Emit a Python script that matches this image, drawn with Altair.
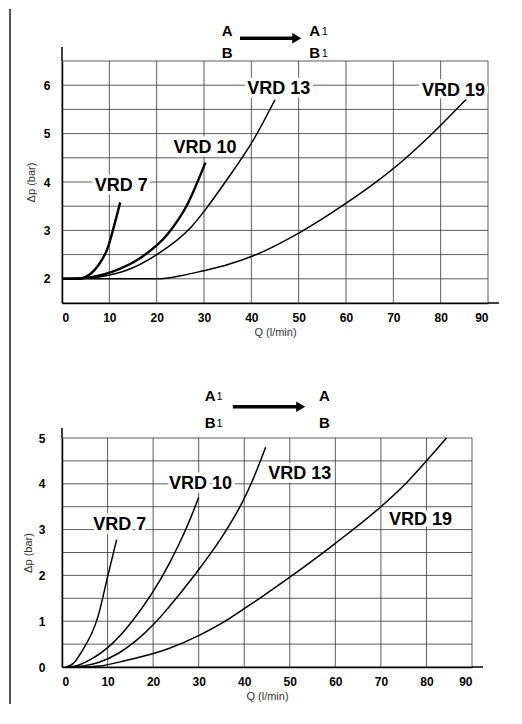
import altair as alt
import pandas as pd

F = "Liberation Sans"

# ---------------- top chart: A,B -> A1,B1 ----------------
top_names = ["VRD 7", "VRD 10", "VRD 13", "VRD 19"]
top_q = [
    [0, 3.5, 4.8, 7.6, 9.7, 11.1, 12.3],
    [0, 4, 7, 10.4, 16.7, 22.3, 26.5, 30.3],
    [0, 5, 9, 13.2, 20.2, 27.2, 30.3, 34.5, 40.5, 45.0],
    [0, 10, 20.2, 25.4, 29.6, 34.9, 40.3, 50.3, 59.1, 66.1, 72.1, 77.7, 85.5],
]
top_p = [
    [2.0, 2.0, 2.03, 2.27, 2.65, 3.13, 3.58],
    [2.0, 2.01, 2.05, 2.14, 2.44, 2.92, 3.54, 4.4],
    [2.0, 2.01, 2.06, 2.16, 2.51, 3.06, 3.43, 4.0, 4.88, 5.7],
    [2.0, 2.0, 2.0, 2.07, 2.16, 2.29, 2.47, 2.96, 3.5, 3.98, 4.45, 4.95, 5.72],
]
top_thick = ["VRD 7", "VRD 10"]
top_label_q = [12.5, 30.2, 45.8, 82.7]
top_label_p = [3.92, 4.71, 5.93, 5.89]
top_head_text = ["A", "B", "A", "B"]
top_head_q = [34.9, 34.9, 53.4, 53.4]
top_head_p = [7.11, 6.66, 7.11, 6.66]
top_sub_q = [55.5, 55.5]
top_sub_p = [7.09, 6.64]
top_arrow_q = [37.6, 49.6]
top_arrow_p = [6.97, 6.97]
top_x_domain = [0, 90]
top_y_domain = [1.5, 6.5]
top_y_labels = [2, 3, 4, 5, 6]
top_y_grid = [1.5, 2.0, 2.5, 3.0, 3.5, 4.0, 4.5, 5.0, 5.5, 6.0, 6.5]

# ---------------- bottom chart: A1,B1 -> A,B ----------------
bot_names = ["VRD 7", "VRD 10", "VRD 13", "VRD 19"]
bot_q = [
    [0.8, 2.5, 4.3, 7.9, 10.2, 12.0],
    [1.5, 3.0, 6.0, 10.9, 15.4, 19.7, 23.6, 27.8, 30.0],
    [1.5, 5.0, 8.0, 12.4, 16.2, 20.5, 23.4, 28.9, 35.5, 39.6, 41.5, 44.7],
    [1.5, 5.0, 8.1, 14.0, 20.6, 23.6, 30.1, 34.6, 40.4, 43.4, 50.0, 60.0, 70.0, 75.2, 80.0, 84.4],
]
bot_p = [
    [0.0, 0.08, 0.33, 1.1, 2.05, 2.78],
    [0.0, 0.02, 0.15, 0.5, 1.0, 1.6, 2.27, 3.15, 3.7],
    [0.0, 0.03, 0.1, 0.3, 0.57, 0.97, 1.3, 1.98, 2.9, 3.6, 4.0, 4.8],
    [0.0, 0.0, 0.02, 0.14, 0.31, 0.41, 0.69, 0.93, 1.3, 1.5, 1.96, 2.7, 3.5, 3.98, 4.5, 5.0],
]
bot_thick = []
bot_label_q = [12.7, 30.4, 52.2, 78.7]
bot_label_p = [3.11, 4.0, 4.22, 3.2]
bot_head_text = ["A", "B", "A", "B"]
bot_head_q = [32.5, 32.5, 57.6, 57.6]
bot_head_p = [5.92, 5.33, 5.92, 5.33]
bot_sub_q = [34.6, 34.6]
bot_sub_p = [5.9, 5.31]
bot_arrow_q = [37.5, 52.4]
bot_arrow_p = [5.68, 5.68]
bot_x_domain = [0, 90]
bot_y_domain = [0, 5]
bot_y_labels = [0, 1, 2, 3, 4, 5]
bot_y_grid = [0.0, 0.5, 1.0, 1.5, 2.0, 2.5, 3.0, 3.5, 4.0, 4.5, 5.0]

x_ticks = [0, 10, 20, 30, 40, 50, 60, 70, 80, 90]


def curves_df(names, qs, ps):
    rows = []
    for n, q, p in zip(names, qs, ps):
        for i, (a, b) in enumerate(zip(q, p)):
            rows.append({"series": n, "order": i, "Q": a, "dp": b})
    return pd.DataFrame(rows)


def panel(names, qs, ps, thick, lq, lp, hq, hp, htext, sq, sp, aq, ap,
          xdom, ydom, ylabels, ygrid, w, h, lab_pad, title_pad, frame):
    fl, ft, fb, ext_y, ext_x = frame
    x = alt.X("Q:Q", scale=alt.Scale(domain=xdom, nice=False, zero=False),
              axis=alt.Axis(values=x_ticks, title="Q (l/min)", titlePadding=3,
                            labelPadding=9, labelOverlap=False, grid=False, zindex=2))
    y = alt.Y("dp:Q", scale=alt.Scale(domain=ydom, nice=False, zero=False),
              axis=alt.Axis(values=ylabels, title="Δp (bar)", grid=False,
                            labelOverlap=False, zindex=2,
                            labelPadding=lab_pad, titlePadding=title_pad))

    hgrid = alt.Chart(pd.DataFrame({"dp": ygrid})).mark_rule(
        color="#333", strokeWidth=0.8
    ).encode(y=y)
    vgrid = alt.Chart(pd.DataFrame({"Q": x_ticks})).mark_rule(
        color="#333", strokeWidth=0.8
    ).encode(x=x)

    cdf = curves_df(names, qs, ps)
    cdf["thick"] = cdf["series"].isin(thick)
    base = alt.Chart(cdf)
    thin_lines = base.transform_filter("!datum.thick").mark_line(
        color="black", strokeWidth=1.5, interpolate="monotone"
    ).encode(x="Q:Q", y="dp:Q", detail="series:N", order="order:Q")
    thick_lines = base.transform_filter("datum.thick").mark_line(
        color="black", strokeWidth=2.4, interpolate="monotone"
    ).encode(x="Q:Q", y="dp:Q", detail="series:N", order="order:Q")

    ldf = pd.DataFrame({"Q": lq, "dp": lp, "text": names})
    halo = alt.Chart(ldf).mark_text(
        font=F, fontWeight="bold", fontSize=18, fill="white", stroke="white",
        strokeWidth=7, strokeJoin="round"
    ).encode(x="Q:Q", y="dp:Q", text="text:N")
    labels = alt.Chart(ldf).mark_text(
        font=F, fontWeight="bold", fontSize=18, color="black"
    ).encode(x="Q:Q", y="dp:Q", text="text:N")

    hdf = pd.DataFrame({"Q": hq, "dp": hp, "text": htext})
    head = alt.Chart(hdf).mark_text(
        font=F, fontWeight="bold", fontSize=15, color="black"
    ).encode(x="Q:Q", y="dp:Q", text="text:N")
    sdf = pd.DataFrame({"Q": sq, "dp": sp, "text": ["1"] * len(sq)})
    sub = alt.Chart(sdf).mark_text(
        font=F, fontSize=11, color="black"
    ).encode(x="Q:Q", y="dp:Q", text="text:N")

    adf = pd.DataFrame({"Q": aq, "dp": ap})
    shaft = alt.Chart(adf).mark_line(color="black", strokeWidth=3.5).encode(x="Q:Q", y="dp:Q")
    tip = alt.Chart(adf.tail(1)).mark_point(
        shape="triangle-right", filled=True, color="black", size=110, opacity=1
    ).encode(x="Q:Q", y="dp:Q")

    # decorative page frame (left edge) and axis-line overhangs
    frame_l = alt.Chart().mark_rule(color="#555", strokeWidth=2).encode(
        x=alt.value(fl), y=alt.value(ft), y2=alt.value(fb))
    yover = alt.Chart().mark_rule(color="black", strokeWidth=1.5).encode(
        x=alt.value(0), y=alt.value(-ext_y), y2=alt.value(0))
    xover = alt.Chart().mark_rule(color="black", strokeWidth=1.5).encode(
        x=alt.value(w), x2=alt.value(w + ext_x), y=alt.value(h))

    return alt.layer(hgrid, vgrid, thin_lines, thick_lines, halo, labels,
                     head, sub, shaft, tip, frame_l, yover, xover
                     ).properties(width=w, height=h)


top = panel(top_names, top_q, top_p, top_thick, top_label_q, top_label_p,
            top_head_q, top_head_p, top_head_text, top_sub_q, top_sub_p,
            top_arrow_q, top_arrow_p, top_x_domain, top_y_domain, top_y_labels,
            top_y_grid, 426, 242, 12, 7, (-52, -52, 300, 14, 11))
bottom = panel(bot_names, bot_q, bot_p, bot_thick, bot_label_q, bot_label_p,
               bot_head_q, bot_head_p, bot_head_text, bot_sub_q, bot_sub_p,
               bot_arrow_q, bot_arrow_p, bot_x_domain, bot_y_domain, bot_y_labels,
               bot_y_grid, 410, 229, 17, 5, (-52, -77, 266, 10, 11))

chart = alt.vconcat(top, bottom, spacing=135, bounds="flush").properties(
    padding={"left": 1, "top": 0, "right": 0, "bottom": 0},
    background="white",
).configure_axis(
    labelFont=F, labelFontWeight="bold", labelFontSize=12, labelColor="black",
    titleFont=F, titleFontWeight="normal", titleFontSize=11, titleColor="#333",
    domainColor="black", domainWidth=1.5,
    ticks=False,
).configure_view(stroke=None)

chart.save("out.html", embed_options={"renderer": "svg", "actions": False})
